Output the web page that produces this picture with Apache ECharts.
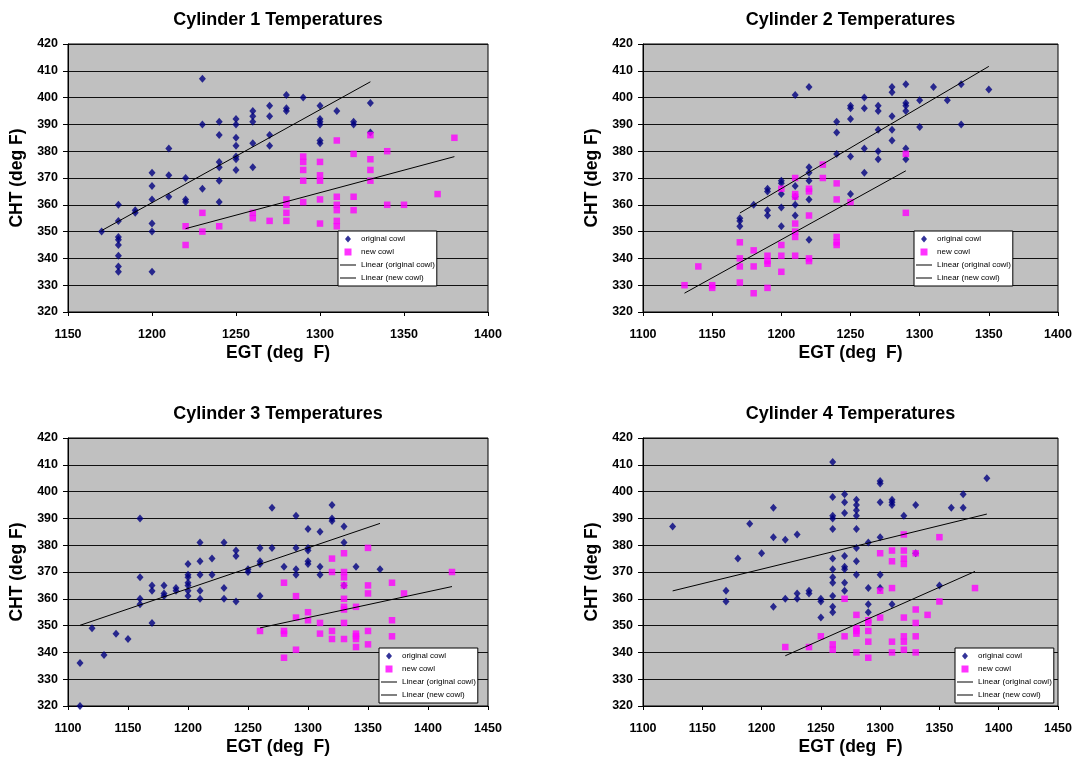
<!DOCTYPE html>
<html><head><meta charset="utf-8">
<script src="https://cdn.jsdelivr.net/npm/echarts@6/dist/echarts.min.js"></script>
<style>html,body{margin:0;padding:0;background:#fff}#c{width:1078px;height:761px}</style>
</head><body><div id="c"></div>
<script>
// ---- data (EGT x, list of CHT y values at that EGT) ----
const titles = ['Cylinder 1 Temperatures','Cylinder 2 Temperatures','Cylinder 3 Temperatures','Cylinder 4 Temperatures'];
const xMins = [1150, 1100, 1100, 1100];
const xMaxs = [1400, 1400, 1450, 1450];
const xStep = 50;
const yMin = 320, yMax = 420, yStep = 10;
const xName = 'EGT (deg  F)';
const yName = 'CHT (deg F)';
const seriesNames = ['original cowl', 'new cowl', 'Linear (original cowl)', 'Linear (new cowl)'];

const cyl1Orig = [[1170,[350]],[1180,[360,354,348,347,345,341,337,335]],[1190,[358,357]],[1200,[372,367,362,353,350,335]],
  [1210,[381,371,363]],[1220,[370,362,361]],[1230,[407,390,366]],[1240,[391,386,376,374,369,361]],
  [1250,[392,390,385,382,378,377,373]],[1260,[395,393,391,383,374]],[1270,[397,393,386,382]],[1280,[401,396,395]],
  [1290,[400]],[1300,[397,392,391,390,384,383]],[1310,[395]],[1320,[391,390]],[1330,[398,387]]];
const cyl1New = [[1220,[352,345]],[1230,[357,350]],[1240,[352]],[1260,[357,355]],[1270,[354]],[1280,[362,360,357,354]],
  [1290,[378,376,373,369,361]],[1300,[376,371,369,362,353]],[1310,[384,363,360,358,354,352]],[1320,[379,363,358]],
  [1330,[386,377,373,369]],[1340,[380,360]],[1350,[360]],[1370,[364]],[1380,[385]]];

const cyl2Orig = [[1170,[355,354,352]],[1180,[360]],[1190,[366,365,358,356]],[1200,[369,368,364,359,352]],
  [1210,[401,367,363,360,356]],[1220,[404,374,372,369,362,347]],[1240,[391,387,379]],[1250,[397,396,392,378,364]],
  [1260,[400,396,381,372]],[1270,[397,395,388,380,377]],[1280,[404,402,393,388,384]],[1290,[405,398,397,395,381,377]],
  [1300,[399,389]],[1310,[404]],[1320,[399]],[1330,[405,390]],[1350,[403]]];
const cyl2New = [[1130,[330]],[1140,[337]],[1150,[330,329]],[1170,[346,340,337,331]],[1180,[343,337,327]],
  [1190,[341,339,338,329]],[1200,[366,345,341,335]],[1210,[370,364,363,353,350,348,341]],[1220,[366,365,356,340,339]],
  [1230,[375,370]],[1240,[368,362,348,346,345]],[1250,[361]],[1290,[379,357]]];

const cyl3Orig = [[1110,[336,320]],[1120,[349]],[1130,[339]],[1140,[347]],[1150,[345]],[1160,[390,368,360,358]],
  [1170,[365,363,351]],[1180,[365,362,361]],[1190,[364,363]],[1200,[373,369,368,366,365,363,361]],
  [1210,[381,374,369,363,360]],[1220,[375,369]],[1230,[381,364,360]],[1240,[378,376,359]],[1250,[371,370]],
  [1260,[379,374,373,361]],[1270,[394,379]],[1280,[372]],[1290,[391,379,371,369]],[1300,[386,379,378,374,373]],
  [1310,[385,372,369]],[1320,[395,390,389]],[1330,[387,381,365]],[1340,[372]],[1360,[371]]];
const cyl3New = [[1260,[348]],[1280,[366,348,347,338]],[1290,[361,353,341]],[1300,[355,352]],[1310,[351,347]],
  [1320,[375,370,348,345]],[1330,[377,370,368,365,360,357,356,351,345]],[1340,[357,347,346,345,342]],
  [1350,[379,365,362,348,343]],[1370,[366,352,346]],[1380,[362]],[1420,[370]]];

const cyl4Orig = [[1125,[387]],[1170,[363,359]],[1180,[375]],[1190,[388]],[1200,[377]],[1210,[394,383,357]],
  [1220,[382,360]],[1230,[384,362,360]],[1240,[363,362]],[1250,[360,359,353]],
  [1260,[411,398,391,390,386,375,371,368,366,361,357,355]],[1270,[399,396,392,376,372,371,366,363]],
  [1280,[397,395,393,391,386,379,374,369]],[1290,[381,364,358,355]],[1300,[404,403,396,383,369,364]],
  [1310,[397,396,395,358]],[1320,[391]],[1330,[395,377]],[1350,[365]],[1360,[394]],[1370,[399,394]],[1390,[405]]];
const cyl4New = [[1220,[342]],[1240,[342]],[1250,[346]],[1260,[343,341]],[1270,[360,346]],[1280,[354,349,348,347,340]],
  [1290,[352,351,348,344,338]],[1300,[377,363,353]],[1310,[378,374,364,344,340]],[1320,[384,378,375,373,353,346,344,341]],
  [1330,[377,356,351,346,340]],[1340,[354]],[1350,[383,359]],[1380,[364]]];

// ---- helpers ----
function expand(groups){ const out=[]; groups.forEach(([x,ys])=>ys.forEach(y=>out.push([x,y]))); return out; }
function fit(pts){
  let n=pts.length,sx=0,sy=0,sxx=0,sxy=0,mn=Infinity,mx=-Infinity;
  pts.forEach(([x,y])=>{sx+=x;sy+=y;sxx+=x*x;sxy+=x*y;mn=Math.min(mn,x);mx=Math.max(mx,x);});
  const b=(n*sxy-sx*sy)/(n*sxx-sx*sx), a=(sy-b*sx)/n;
  return [[mn,a+b*mn],[mx,a+b*mx]];
}

const origSets = [cyl1Orig, cyl2Orig, cyl3Orig, cyl4Orig].map(expand);
const newSets = [cyl1New, cyl2New, cyl3New, cyl4New].map(expand);

const FONT = 'Liberation Sans, Arial, sans-serif';
const grids = [
  {left:68, top:44, width:420, height:268},
  {left:643, top:44, width:415, height:268},
  {left:68, top:438, width:420, height:268},
  {left:643, top:438, width:415, height:268}
];
const legendPos = [[270,187],[271,187],[311,210],[312,210]];
const LINE_ICON = 'path://M0,0 H16 V1 H0 Z';
const DIAMOND_ICON = 'path://M3,0 L6,3.5 L3,7 L0,3.5 Z';
const SQUARE_ICON = 'path://M0,0 H6 V6 H0 Z';

const option = {
  animation:false,
  backgroundColor:'#fff',
  title: grids.map((g,i)=>({
    text: titles[i], left: g.left + g.width/2, top: g.top - 33, textAlign:'center', padding:0,
    textStyle:{fontFamily:FONT, fontWeight:'bold', fontSize:18, color:'#000'}
  })),
  grid: grids.map(g=>({left:g.left, top:g.top, width:g.width, height:g.height, show:true,
    backgroundColor:'#C0C0C0', borderColor:'#000', borderWidth:1, containLabel:false})),
  legend: grids.map((g,i)=>({
    orient:'vertical', left:g.left+legendPos[i][0], top:g.top+legendPos[i][1],
    padding:[4,2,4,2], itemGap:5, itemWidth:16, itemHeight:7, symbolKeepAspect:true,
    backgroundColor:'#fff', borderColor:'#000', borderWidth:1, selectedMode:false,
    textStyle:{fontFamily:FONT, fontSize:8, color:'#000'},
    data:[{name:seriesNames[0], icon:DIAMOND_ICON},{name:seriesNames[1], icon:SQUARE_ICON},
          {name:seriesNames[2], icon:LINE_ICON},{name:seriesNames[3], icon:LINE_ICON}]
  })),
  xAxis: grids.map((g,i)=>({
    type:'value', gridIndex:i, min:xMins[i], max:xMaxs[i], interval:xStep,
    name:xName, nameLocation:'middle', nameGap:32,
    nameTextStyle:{fontFamily:FONT, fontWeight:'bold', fontSize:17.5, color:'#000'},
    axisLine:{show:true, onZero:false, lineStyle:{color:'#000', width:1}},
    axisTick:{show:true, inside:false, length:4, lineStyle:{color:'#000'}},
    axisLabel:{margin:16, fontFamily:FONT, fontWeight:'bold', fontSize:12.5, color:'#000', formatter:v=>String(v)},
    splitLine:{show:false}
  })),
  yAxis: grids.map((g,i)=>({
    type:'value', gridIndex:i, min:yMin, max:yMax, interval:yStep,
    name:yName, nameLocation:'middle', nameGap:42,
    nameTextStyle:{fontFamily:FONT, fontWeight:'bold', fontSize:17.5, color:'#000'},
    axisLine:{show:true, onZero:false, lineStyle:{color:'#000', width:1}},
    axisTick:{show:true, inside:false, length:5, lineStyle:{color:'#000'}},
    axisLabel:{margin:10, fontFamily:FONT, fontWeight:'bold', fontSize:12.5, color:'#000', formatter:v=>String(v)},
    splitLine:{show:true, lineStyle:{color:'#111', width:1}}
  })),
  series: []
};

for (let i=0;i<4;i++){
  option.series.push({name:seriesNames[0], type:'scatter', xAxisIndex:i, yAxisIndex:i, data:origSets[i],
    symbol:'diamond', symbolSize:[7,8], itemStyle:{color:'#000080'}, silent:true, z:2});
  option.series.push({name:seriesNames[1], type:'scatter', xAxisIndex:i, yAxisIndex:i, data:newSets[i],
    symbol:'rect', symbolSize:6.5, itemStyle:{color:'#FF00FF'}, silent:true, z:3});
  option.series.push({name:seriesNames[2], type:'line', xAxisIndex:i, yAxisIndex:i, data:fit(origSets[i]),
    symbol:'none', showSymbol:false, lineStyle:{color:'#000', width:1}, itemStyle:{color:'#000'}, silent:true, z:4});
  option.series.push({name:seriesNames[3], type:'line', xAxisIndex:i, yAxisIndex:i, data:fit(newSets[i]),
    symbol:'none', showSymbol:false, lineStyle:{color:'#000', width:1}, itemStyle:{color:'#000'}, silent:true, z:4});
}

const chart = echarts.init(document.getElementById('c'), null, {renderer:'canvas'});
chart.setOption(option);
</script>
</body></html>
